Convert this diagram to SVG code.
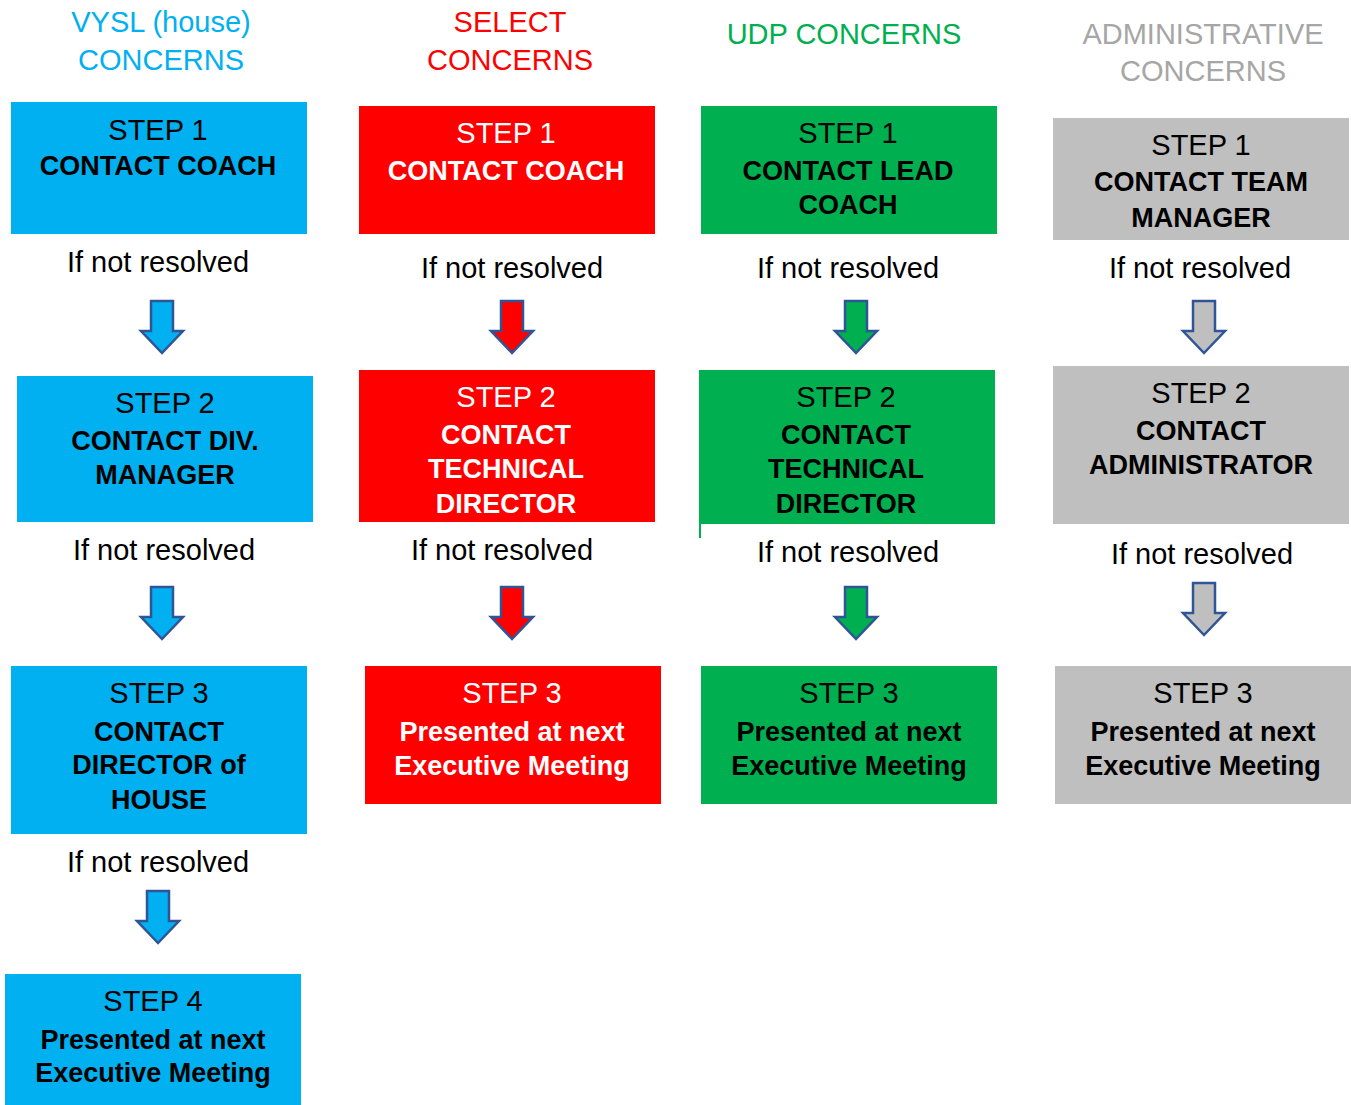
<svg xmlns="http://www.w3.org/2000/svg" width="1351" height="1105" viewBox="0 0 1351 1105">
<style>
text{font-family:"Liberation Sans",Arial,sans-serif;text-anchor:middle}
.t{font-size:29px}
.r{font-size:29px;fill:#000}
.b{font-size:27px;font-weight:bold;fill:#000}
.w{fill:#fff}
.blue{fill:#00B0F0}.red{fill:#FF0000}.green{fill:#00B050}.gray{fill:#BFBFBF}
.tgray{fill:#A6A6A6}
.arr{stroke:#2F5597;stroke-width:2.5;stroke-linejoin:miter}
</style>
<defs>
<path id="ar" d="M-11,0 H11 V30 H21 L0,52 L-21,30 H-11 Z"/>
</defs>
<g id="titles">
<text class="t blue" x="161" y="32">VYSL (house)</text>
<text class="t blue" x="161" y="70">CONCERNS</text>
<text class="t red" x="510" y="32">SELECT</text>
<text class="t red" x="510" y="70">CONCERNS</text>
<text class="t green" x="844" y="44">UDP CONCERNS</text>
<text class="t tgray" x="1203" y="44">ADMINISTRATIVE</text>
<text class="t tgray" x="1203" y="81">CONCERNS</text>
</g>
<g id="v1"><rect class="blue" x="11" y="102" width="296" height="132"/><text class="r" x="158" y="140">STEP 1</text><text class="b" x="158" y="175">CONTACT COACH</text></g>
<g id="v2"><rect class="blue" x="17" y="376" width="296" height="146"/><text class="r" x="165" y="413">STEP 2</text><text class="b" x="165" y="450">CONTACT DIV.</text><text class="b" x="165" y="484">MANAGER</text></g>
<g id="v3"><rect class="blue" x="11" y="666" width="296" height="168"/><text class="r" x="159" y="703">STEP 3</text><text class="b" x="159" y="741">CONTACT</text><text class="b" x="159" y="774">DIRECTOR of</text><text class="b" x="159" y="809">HOUSE</text></g>
<g id="v4"><rect class="blue" x="5" y="974" width="296" height="131"/><text class="r" x="153" y="1011">STEP 4</text><text class="b" x="153" y="1049">Presented at next</text><text class="b" x="153" y="1082">Executive Meeting</text></g>
<g id="s1"><rect class="red" x="359" y="106" width="296" height="128"/><text class="r w" x="506" y="143">STEP 1</text><text class="b w" x="506" y="180">CONTACT COACH</text></g>
<g id="s2"><rect class="red" x="359" y="370" width="296" height="152"/><text class="r w" x="506" y="407">STEP 2</text><text class="b w" x="506" y="444">CONTACT</text><text class="b w" x="506" y="478">TECHNICAL</text><text class="b w" x="506" y="513">DIRECTOR</text></g>
<g id="s3"><rect class="red" x="365" y="666" width="296" height="138"/><text class="r w" x="512" y="703">STEP 3</text><text class="b w" x="512" y="741">Presented at next</text><text class="b w" x="512" y="775">Executive Meeting</text></g>
<g id="u1"><rect class="green" x="701" y="106" width="296" height="128"/><text class="r" x="848" y="143">STEP 1</text><text class="b" x="848" y="180">CONTACT LEAD</text><text class="b" x="848" y="214">COACH</text></g>
<g id="u2"><rect class="green" x="699" y="370" width="296" height="154"/><rect class="green" x="699" y="520" width="2" height="18"/><text class="r" x="846" y="407">STEP 2</text><text class="b" x="846" y="444">CONTACT</text><text class="b" x="846" y="478">TECHNICAL</text><text class="b" x="846" y="513">DIRECTOR</text></g>
<g id="u3"><rect class="green" x="701" y="666" width="296" height="138"/><text class="r" x="849" y="703">STEP 3</text><text class="b" x="849" y="741">Presented at next</text><text class="b" x="849" y="775">Executive Meeting</text></g>
<g id="a1"><rect class="gray" x="1053" y="118" width="296" height="122"/><text class="r" x="1201" y="155">STEP 1</text><text class="b" x="1201" y="191">CONTACT TEAM</text><text class="b" x="1201" y="227">MANAGER</text></g>
<g id="a2"><rect class="gray" x="1053" y="366" width="296" height="158"/><text class="r" x="1201" y="403">STEP 2</text><text class="b" x="1201" y="440">CONTACT</text><text class="b" x="1201" y="474">ADMINISTRATOR</text></g>
<g id="a3"><rect class="gray" x="1055" y="666" width="296" height="138"/><text class="r" x="1203" y="703">STEP 3</text><text class="b" x="1203" y="741">Presented at next</text><text class="b" x="1203" y="775">Executive Meeting</text></g>
<g id="connectors">
<text class="r" x="158" y="272">If not resolved</text>
<text class="r" x="164" y="560">If not resolved</text>
<text class="r" x="158" y="872">If not resolved</text>
<text class="r" x="512" y="278">If not resolved</text>
<text class="r" x="502" y="560">If not resolved</text>
<text class="r" x="848" y="278">If not resolved</text>
<text class="r" x="848" y="562">If not resolved</text>
<text class="r" x="1200" y="278">If not resolved</text>
<text class="r" x="1202" y="564">If not resolved</text>
<use href="#ar" class="arr blue" x="162" y="301"/>
<use href="#ar" class="arr blue" x="162" y="587"/>
<use href="#ar" class="arr blue" x="158" y="891"/>
<use href="#ar" class="arr red" x="512" y="301"/>
<use href="#ar" class="arr red" x="512" y="587"/>
<use href="#ar" class="arr green" x="856" y="301"/>
<use href="#ar" class="arr green" x="856" y="587"/>
<use href="#ar" class="arr gray" x="1204" y="301"/>
<use href="#ar" class="arr gray" x="1204" y="583"/>
</g>
</svg>
